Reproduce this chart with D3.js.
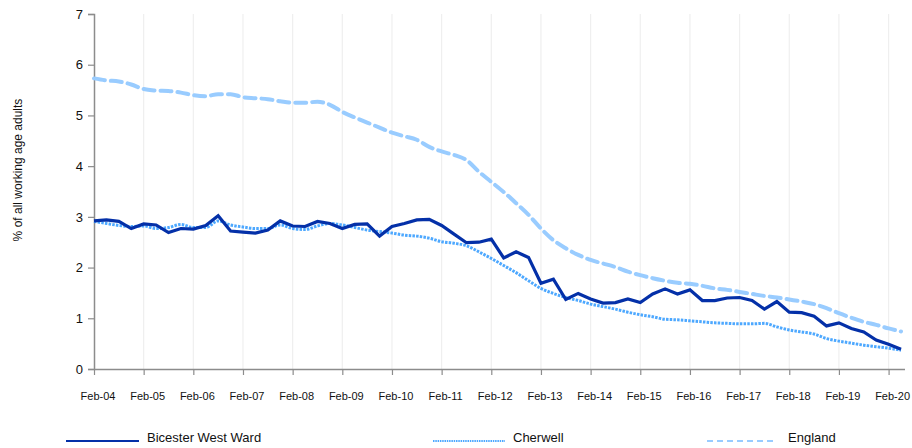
<!DOCTYPE html>
<html>
<head>
<meta charset="utf-8">
<script src="https://cdn.jsdelivr.net/npm/d3@7"></script>
<style>
  html, body { margin: 0; padding: 0; background: #fff; }
  svg { display: block; font-family: "Liberation Sans", Arial, sans-serif; }
</style>
</head>
<body>
<svg id="chart" width="912" height="448"></svg>
<script>
// Quarterly observations, Feb-04 .. May-20
const tickLabels = ["Feb-04","Feb-05","Feb-06","Feb-07","Feb-08","Feb-09","Feb-10","Feb-11","Feb-12","Feb-13","Feb-14","Feb-15","Feb-16","Feb-17","Feb-18","Feb-19","Feb-20"];
const yTicks = [0,1,2,3,4,5,6,7];

const bicesterWest = [2.92,2.94,2.91,2.77,2.86,2.84,2.69,2.77,2.76,2.83,3.02,2.72,2.70,2.68,2.74,2.92,
  2.82,2.81,2.91,2.87,2.77,2.85,2.86,2.62,2.81,2.87,2.94,2.95,2.83,2.66,2.49,2.50,2.56,2.19,
  2.31,2.20,1.69,1.77,1.37,1.49,1.38,1.30,1.31,1.38,1.31,1.48,1.58,1.48,1.56,1.35,
  1.35,1.40,1.41,1.35,1.18,1.33,1.12,1.11,1.04,0.85,0.91,0.80,0.73,0.57,0.49,0.39];
const cherwell = [2.91,2.87,2.83,2.81,2.82,2.77,2.79,2.85,2.79,2.79,2.92,2.84,2.80,2.77,2.77,2.84,
  2.77,2.75,2.82,2.87,2.84,2.79,2.74,2.71,2.68,2.64,2.62,2.58,2.51,2.48,2.43,2.31,2.18,2.04,
  1.90,1.74,1.59,1.49,1.41,1.35,1.28,1.23,1.18,1.12,1.07,1.03,0.98,0.97,0.95,0.93,
  0.91,0.90,0.89,0.89,0.90,0.83,0.77,0.73,0.69,0.60,0.55,0.51,0.47,0.44,0.41,0.37];
const england = [5.73,5.69,5.67,5.61,5.52,5.49,5.48,5.45,5.40,5.38,5.42,5.42,5.36,5.34,5.32,5.28,
  5.25,5.25,5.27,5.21,5.07,4.96,4.86,4.76,4.66,4.59,4.52,4.38,4.29,4.22,4.12,3.89,3.69,3.49,
  3.27,3.04,2.77,2.54,2.38,2.25,2.15,2.08,2.01,1.92,1.85,1.79,1.74,1.70,1.68,1.64,
  1.59,1.56,1.52,1.48,1.44,1.41,1.37,1.33,1.28,1.20,1.10,1.01,0.93,0.87,0.80,0.74];

const seriesNames = ["Bicester West Ward","Cherwell","England"];

const svg = d3.select("#chart");
const x0 = 94, x1 = 901, yTop = 14, yBot = 369;
const n = bicesterWest.length;

const x = d3.scaleLinear().domain([0, n - 1]).range([x0, x1]);
const y = d3.scaleLinear().domain([0, 7]).range([yBot, yTop]);

const yearIdx = tickLabels.map((d, i) => i * 4);

// vertical gridlines
svg.append("g").selectAll("line")
  .data(yearIdx.slice(1))
  .join("line")
  .attr("x1", d => x(d)).attr("x2", d => x(d))
  .attr("y1", yTop).attr("y2", yBot)
  .attr("stroke", "#efefef").attr("stroke-width", 1.2);

// y axis
const yAxis = d3.axisLeft(y).tickValues(yTicks).tickSize(6).tickPadding(5).tickFormat(d3.format("d"));
const gy = svg.append("g").attr("transform", `translate(${x0},0)`).call(yAxis);
gy.select(".domain").attr("stroke", "#8c8c8c").attr("stroke-width", 1.5);
gy.selectAll(".tick line").attr("stroke", "#8c8c8c").attr("stroke-width", 1.2);
gy.selectAll(".tick text").attr("font-size", 13).attr("fill", "#111").attr("font-family", "Liberation Sans, Arial, sans-serif");

// x axis
const xAxis = d3.axisBottom(x).tickValues(yearIdx).tickSize(6).tickFormat("");
const gx = svg.append("g").attr("transform", `translate(0,${yBot})`).call(xAxis);
gx.select(".domain").attr("stroke", "#8c8c8c").attr("stroke-width", 1.5).attr("d", `M${x0},0.5H${x1 + 4}`);
gx.selectAll(".tick line").attr("stroke", "#8c8c8c").attr("stroke-width", 1.2);

svg.append("g").selectAll("text")
  .data(tickLabels)
  .join("text")
  .attr("x", (d, i) => x(i * 4) + 4)
  .attr("y", 400)
  .attr("text-anchor", "middle")
  .attr("font-size", 11)
  .attr("fill", "#111")
  .text(d => d);

// y title
svg.append("text")
  .attr("transform", "translate(22,170) rotate(-90)")
  .attr("text-anchor", "middle")
  .attr("font-size", 12)
  .attr("fill", "#111")
  .text("% of all working age adults");

// lines
const lineLinear = d3.line().x((d, i) => x(i)).y(d => y(d));
const lineSmooth = d3.line().x((d, i) => x(i)).y(d => y(d)).curve(d3.curveMonotoneX);

const styles = [
  { color: "#0430a8", width: 3.2, dash: null, cap: "butt" },
  { color: "#4da8ff", width: 3, dash: "2.5,1.2", cap: "butt" },
  { color: "#99ccff", width: 4, dash: "11,6", cap: "butt" }
];

svg.append("path").datum(england)
  .attr("d", lineSmooth).attr("fill", "none")
  .attr("stroke", styles[2].color).attr("stroke-width", styles[2].width)
  .attr("stroke-dasharray", styles[2].dash).attr("stroke-linecap", "round");

svg.append("path").datum(cherwell)
  .attr("d", lineSmooth).attr("fill", "none")
  .attr("stroke", styles[1].color).attr("stroke-width", styles[1].width)
  .attr("stroke-dasharray", styles[1].dash);

svg.append("path").datum(bicesterWest)
  .attr("d", lineLinear).attr("fill", "none")
  .attr("stroke", styles[0].color).attr("stroke-width", styles[0].width)
  .attr("stroke-linejoin", "miter");

// legend
const legendPos = [
  { lx1: 66, lx2: 139, tx: 147 },
  { lx1: 433, lx2: 505, tx: 513 },
  { lx1: 707, lx2: 777, tx: 788 }
];
const legendY = 441;
const lg = svg.append("g");
seriesNames.forEach((name, i) => {
  const p = legendPos[i];
  lg.append("line")
    .attr("x1", p.lx1).attr("x2", p.lx2)
    .attr("y1", legendY).attr("y2", legendY)
    .attr("stroke", styles[i].color)
    .attr("stroke-width", i === 0 ? 2.2 : 2)
    .attr("stroke-dasharray", i === 0 ? null : (i === 1 ? "1.5,0.8" : "6,4"));
  lg.append("text")
    .attr("x", p.tx).attr("y", legendY + 1)
    .attr("font-size", 13)
    .attr("fill", "#111")
    .text(name);
});
</script>
</body>
</html>
